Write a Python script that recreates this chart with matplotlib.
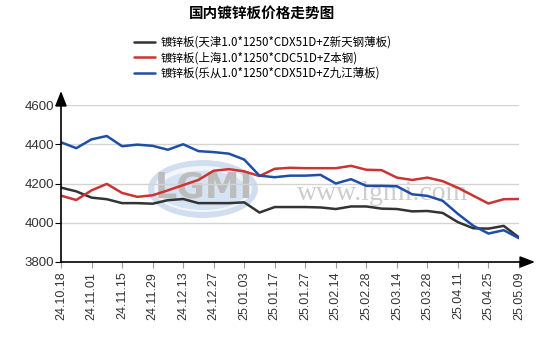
import matplotlib
matplotlib.use("Agg")
import matplotlib.pyplot as plt
from matplotlib.patches import Ellipse

plt.rcParams['font.family'] = ['Noto Sans CJK SC', 'DejaVu Sans']

# 价格数据（元/吨），每两点一个日期标签
dates = ['24.10.18', '24.11.01', '24.11.15', '24.11.29', '24.12.13', '24.12.27',
         '25.01.03', '25.01.17', '25.01.27', '25.02.14', '25.02.28', '25.03.14',
         '25.03.28', '25.04.11', '25.04.25', '25.05.09']

tianjin = [4179, 4160, 4128, 4120, 4100, 4100, 4097, 4115, 4121, 4100, 4100,
           4100, 4104, 4052, 4080, 4080, 4080, 4078, 4070, 4083, 4083, 4072,
           4070, 4058, 4060, 4050, 4003, 3972, 3970, 3984, 3925]
shanghai = [4138, 4116, 4165, 4198, 4152, 4132, 4140, 4165, 4192, 4218, 4265,
            4273, 4262, 4238, 4275, 4280, 4278, 4278, 4278, 4290, 4270, 4268,
            4230, 4218, 4230, 4212, 4178, 4138, 4098, 4120, 4121]
lecong = [4410, 4380, 4425, 4442, 4390, 4398, 4392, 4372, 4400, 4365, 4360,
          4352, 4322, 4240, 4232, 4240, 4240, 4244, 4200, 4222, 4188, 4188,
          4186, 4145, 4137, 4112, 4045, 3985, 3945, 3962, 3921]

names = ['镀锌板(天津1.0*1250*CDX51D+Z新天钢薄板)',
         '镀锌板(上海1.0*1250*CDC51D+Z本钢)',
         '镀锌板(乐从1.0*1250*CDX51D+Z九江薄板)']
colors = ['#333333', '#cc3333', '#1f4ea8']
yticks = [3800, 4000, 4200, 4400, 4600]

W, H = 542, 342
fig = plt.figure(figsize=(W / 100, H / 100), dpi=100)
ax = fig.add_axes([61 / W, (H - 262) / H, (519 - 61) / W, (262 - 105) / H])

x = list(range(len(tianjin)))

# 水印
ax.add_patch(Ellipse((9.3, 4172), 7.2, 295, facecolor='#c9d9ee', edgecolor='none',
                     alpha=0.85, zorder=0))
ax.add_patch(Ellipse((9.3, 4172), 6.4, 235, facecolor='#f2f6fb', edgecolor='none',
                     zorder=0))
ax.add_patch(Ellipse((9.3, 4165), 5.8, 200, facecolor='#d6e3f2', edgecolor='none',
                     zorder=0))
ax.text(9.35, 4178, 'LGMI', ha='center', va='center', fontsize=25, fontweight='bold',
        color='#bcbcbc', family='DejaVu Sans', zorder=0.5)
ax.text(21.05, 4150, 'www.lgmi.com', ha='center', va='center', fontsize=20,
        color='#cdcdcd', family='Liberation Serif', zorder=0.5)

for ys in yticks[1:]:
    ax.axhline(ys, color='#d3d3d3', lw=1, zorder=1)

lines = []
for data, c, n in zip([tianjin, shanghai, lecong], colors, names):
    ln, = ax.plot(x, data, color=c, lw=1.8, label=n, zorder=3,
                  solid_joinstyle='round', solid_capstyle='round')
    lines.append(ln)

ax.set_xlim(0, len(x) - 1)
ax.set_ylim(3800, 4600)
ax.set_xticks(x[::2])
ax.set_xticklabels(dates, rotation=90, family='Liberation Sans', fontsize=9,
                   color='#333333')
ax.set_yticks(yticks)
ax.set_yticklabels([str(v) for v in yticks], family='Liberation Sans', fontsize=9.5,
                   color='#333333')
ax.tick_params(axis='x', length=4, width=0.8, color='#999999', pad=3)
ax.tick_params(axis='y', length=4, width=0.8, color='#000000', pad=1)

for s in ['top', 'right', 'left', 'bottom']:
    ax.spines[s].set_visible(False)

# 带箭头的坐标轴
ax.annotate('', xy=(1 + 16 / 458, 0), xytext=(0, 0), xycoords='axes fraction',
            arrowprops=dict(arrowstyle='-|>,head_length=0.9,head_width=0.35',
                            color='black', lw=1.2, shrinkA=0, shrinkB=0),
            annotation_clip=False)
ax.annotate('', xy=(0, 1 + 14 / 157), xytext=(0, 0), xycoords='axes fraction',
            arrowprops=dict(arrowstyle='-|>,head_length=0.9,head_width=0.35',
                            color='black', lw=1.2, shrinkA=0, shrinkB=0),
            annotation_clip=False)

fig.text(262 / W, 1 - 13 / H, '国内镀锌板价格走势图', ha='center', va='center',
         fontsize=10.5, fontweight='bold')

fig.legend(handles=lines, loc='upper left', bbox_to_anchor=(134 / W, 1 - 36 / H),
           frameon=False, fontsize=8.3, handlelength=1.85, handletextpad=0.45,
           labelspacing=0.2, borderaxespad=0, borderpad=0)

fig.savefig('out.png', dpi=100)
